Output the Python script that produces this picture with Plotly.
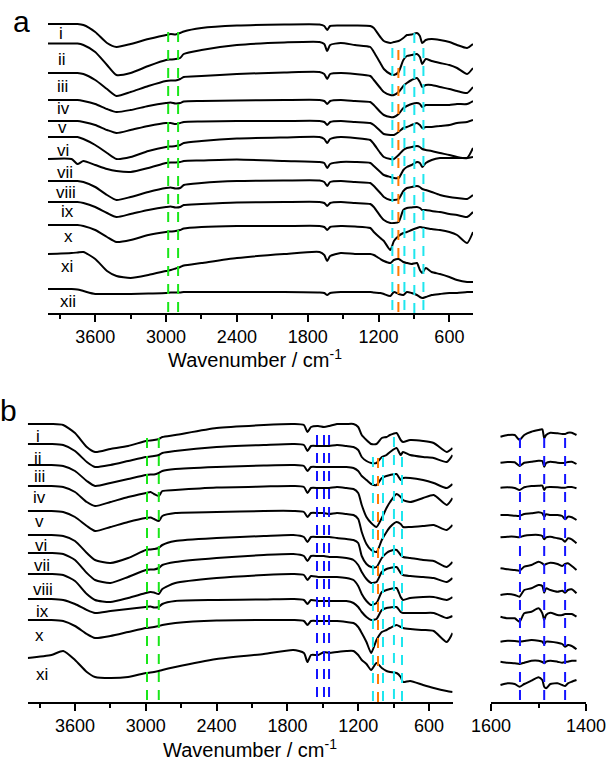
import plotly.graph_objects as go

W, H = 606, 763

# ---------------- panel a : wavenumber grid and stacked spectra (offset transmittance, a.u.) -------------
WN_A = [4000, 3800, 3750, 3700, 3600, 3500, 3420, 3300, 3150, 3000, 2960, 2920, 2880, 2850, 2700,
        2400, 2000, 1700, 1660, 1635, 1610, 1520, 1400, 1270, 1240, 1185, 1155, 1100, 1070, 1030,
        990, 960, 920, 875, 850, 830, 800, 750, 680, 600, 535, 450, 400]

A_I = [24, 24, 24, 25, 32, 43, 47, 44, 39, 35, 34, 34.5, 33, 31.5, 28, 25.5, 24.5, 24.5, 26, 30, 26, 25.5,
       25.5, 26, 28, 37, 41, 43, 42, 41, 38, 35, 34.5, 33, 36, 43, 40, 39, 40, 42, 45, 48, 44]
A_II = [43.5, 43.5, 43.5, 45, 52, 65, 75, 73, 66, 60, 59.5, 59, 58, 54, 50, 45, 42.5, 42, 44, 51, 45, 43,
        45, 47, 52, 63, 69, 74, 75, 72, 60, 56, 55, 54, 57, 64, 59, 61, 63, 65, 68, 74, 68]
A_III = [73, 73, 73, 74, 80, 89, 96, 92, 86, 81, 80.5, 80.5, 79, 77, 76, 74, 72.5, 72, 74, 79, 74, 73, 74,
         76, 80, 88, 92, 95, 95, 92, 86, 83, 80, 78, 82, 87, 85, 85, 87, 89, 91, 93, 87]
A_IV = [100, 100, 100, 101, 104, 109, 112, 110, 106, 103, 102.5, 103.5, 103, 101.5, 101, 100.5, 100, 100,
        101, 104, 101, 100, 101, 102, 105, 112, 115, 117, 117, 114, 108, 106, 104, 103, 104, 107, 105,
        105, 105, 105, 104, 104, 101]
A_V = [121, 121, 121, 122, 125, 130, 133, 130, 126, 123, 123, 124, 123, 122, 121.5, 121, 121, 121, 122,
       125, 122, 121, 122, 123, 125, 131, 134, 135, 135, 132, 128, 127, 125, 123, 125, 128, 127, 127,
       126, 125, 123, 122, 120]
A_VI = [137, 137, 137, 139, 145, 153, 159, 157, 151, 147, 146.5, 146, 145, 143, 141, 138.5, 137.5, 137,
        139, 143, 139, 137, 138, 140, 144, 153, 157, 159, 159, 155, 150, 148, 147, 146, 147, 149, 150,
        151, 153, 155, 157, 158, 148]
A_VII = [159, 159, 164, 161, 165, 169, 171, 172, 168, 163, 162.5, 162.5, 162, 161, 160.5, 159.5, 161, 162,
         163, 168, 164, 162, 162, 163, 166, 172, 175, 177, 178, 178, 170, 167, 165, 162, 163, 167, 163,
         160, 158, 158, 158, 158, 157]
A_VIII = [181, 181, 181, 182, 187, 195, 200, 197, 192, 188, 187.5, 188.5, 188, 185, 183, 181, 180.5, 180.5,
          182, 186, 182, 181, 182, 183, 186, 193, 197, 200, 200, 199, 191, 188, 187, 186, 187, 189, 190,
          192, 195, 197, 198, 199, 195]
A_IX = [202, 202, 202, 203, 207, 213, 217, 214, 210, 207, 206.5, 207.5, 207, 205, 204, 202.5, 202, 202,
        203, 206, 203, 202, 203, 204, 207, 216, 220, 223, 223, 222, 210, 208, 207.5, 207, 208, 210, 210,
        211, 212, 214, 215, 217, 212]
A_X = [225, 225, 225, 226, 230, 237, 242, 240, 235, 232, 231.5, 231, 230, 228.5, 227, 226, 226, 226, 227,
       230, 227, 226, 226.5, 228, 232, 238, 241, 250, 241, 236, 233, 232, 230, 228, 227, 227.5, 228, 229,
       230, 232, 235, 243, 232]
A_XI = [254, 253, 252.5, 252, 259, 271, 276, 278, 275, 271, 270, 268.5, 267, 265.5, 263, 258, 254, 252,
        255, 261, 256, 253, 254, 254, 255, 259, 261, 263, 260, 259, 262, 263, 264, 263, 270, 273, 268,
        272, 274, 277, 280, 282, 282]
A_XII = [289, 289, 289.5, 291, 294, 294, 294, 294, 293.5, 293, 292.5, 292.5, 292.5, 292, 292, 292, 292,
         292.5, 293, 295, 293, 292, 292, 292, 292.5, 293, 294, 296, 292, 294, 295, 292, 293, 295, 297,
         298, 297, 295, 294, 293, 293, 292, 292]

A_SERIES = [A_I, A_II, A_III, A_IV, A_V, A_VI, A_VII, A_VIII, A_IX, A_X, A_XI, A_XII]
A_NAMES = ["i", "ii", "iii", "iv", "v", "vi", "vii", "viii", "ix", "x", "xi", "xii"]

# ---------------- panel b -------------
WN_B = [4000, 3800, 3700, 3600, 3500, 3430, 3300, 3150, 3000, 2960, 2930, 2890, 2860, 2750, 2400, 2000,
        1750, 1660, 1630, 1600, 1540, 1490, 1445, 1380, 1300, 1240, 1200, 1170, 1130, 1090, 1045, 1000,
        960, 930, 875, 840, 820, 760, 650, 560, 450, 400]

B_I = [424, 424, 425, 433, 447, 452, 449, 446, 441, 440.5, 440, 439, 437, 435, 428, 425, 424, 425, 432,
       427, 426, 427, 426, 424, 424, 424, 427, 435, 440, 444, 444, 438, 437, 435, 433, 440, 442, 440,
       441, 443, 452, 448]
B_II = [444, 444, 445, 451, 462, 467, 465, 461, 457, 456.5, 456, 455, 453, 451, 447, 445, 444, 445, 451,
        446, 446, 446, 446, 445, 446, 447, 450, 457, 461, 463, 463, 457, 455, 452, 448, 455, 452, 455,
        457, 458, 462, 455]
B_III = [465, 465, 466, 471, 481, 486, 483, 479, 475, 474.5, 474.5, 473, 471, 469, 467, 465.5, 465, 466,
         471, 467, 467, 467, 467, 467, 467, 468, 471, 476, 480, 484, 485, 478, 476, 475, 474, 480, 478,
         478, 480, 483, 488, 484]
B_IV = [486, 486, 487, 492, 502, 506, 502, 497, 493, 492, 494, 496, 491, 490, 487.5, 486.5, 486, 487,
        493, 488, 488, 488, 488, 487, 488, 489, 493, 505, 517, 523, 527, 518, 508, 502, 494, 497, 500,
        502, 498, 495, 505, 498]
B_V = [511, 511, 512, 517, 526, 531, 527, 522, 518, 517.5, 519, 521, 516, 513, 512, 511, 511, 512, 517,
       513, 513, 513, 514, 513, 514, 515, 519, 532, 544, 550, 552, 540, 532, 527, 522, 524, 527, 527,
       526, 525, 530, 525]
B_VI = [535, 535, 536, 541, 553, 560, 563, 558, 550, 549.5, 549, 548, 545, 541, 538, 536, 535, 537, 542,
        537, 537, 537, 537, 538, 539, 540, 543, 556, 564, 567, 567, 558, 553, 551, 550, 555, 557, 558,
        560, 561, 567, 562]
B_VII = [553, 553, 554, 560, 573, 580, 583, 577, 570, 569.5, 569.5, 568, 565, 562, 558, 555, 554, 556,
         561, 556, 556, 556, 557, 557, 558, 560, 565, 572, 579, 583, 582, 572, 569, 568, 567, 573, 575,
         576, 577, 578, 582, 578]
B_VIII = [574, 574, 575, 581, 594, 600, 602, 598, 593, 592, 592.5, 594, 589, 583, 578, 575, 574, 575,
          580, 576, 577, 577, 577, 577, 578, 580, 586, 594, 601, 605, 603, 592, 590, 589, 588, 597, 600,
          598, 597, 597, 600, 597]
B_IX = [599, 599, 600, 604, 610, 613, 611, 609, 607, 606.5, 607.5, 607, 604, 601, 600, 599.5, 599, 600,
        604, 600, 601, 601, 601, 601, 601, 603, 607, 612, 617, 620, 619, 610, 608, 607.5, 607, 612, 613,
        613, 613, 613, 618, 616]
B_X = [620, 620, 621, 626, 634, 638, 636, 632, 628, 627.5, 627, 626, 625, 623, 620.5, 620, 620, 621, 625,
       621, 621, 621, 621, 621, 622, 623, 627, 633, 642, 653, 640, 632, 630, 628, 625, 627, 628, 629,
       630, 631, 642, 633]
B_XI = [658, 655, 651, 660, 672, 677, 678, 677, 673, 672.5, 672, 671, 670, 667, 659, 654, 650, 653, 662,
        655, 655, 652, 653, 652, 651, 651, 655, 660, 664, 670, 663, 668, 671, 672, 673, 677, 682, 681,
        685, 688, 691, 692]

B_SERIES = [B_I, B_II, B_III, B_IV, B_V, B_VI, B_VII, B_VIII, B_IX, B_X, B_XI]
B_NAMES = ["i", "ii", "iii", "iv", "v", "vi", "vii", "viii", "ix", "x", "xi"]

# ---------------- panel b inset (1600-1400 cm-1) -------------
WN_C = [1580, 1565, 1550, 1540, 1530, 1515, 1500, 1492, 1488, 1484, 1475, 1460, 1450, 1444, 1438, 1430, 1420]
C_1 = [436.7, 435, 435, 440, 435, 431.7, 430, 429.3, 438.3, 435, 432.7, 433.3, 434, 434, 432.7, 432.7, 435]
C_2 = [462.7, 462, 462.3, 466, 462.7, 461.7, 460.7, 461, 466.7, 463, 461.7, 462.7, 463, 462.7, 462, 461.7, 464]
C_3 = [487.7, 487.3, 488, 490, 487.3, 486, 485.7, 485.7, 490, 487.3, 487, 487.3, 487.7, 487.7, 487, 487, 488.3]
C_4 = [515, 515, 515.7, 516, 514, 513.3, 512.3, 513.3, 516.7, 514.3, 515, 515, 516, 519.3, 516.7, 517.3, 520]
C_5 = [537.3, 536.7, 536.7, 537.3, 535.7, 535, 535, 536, 539.3, 537.3, 536.7, 538.3, 539.3, 541.7, 538.3, 539.3, 543.3]
C_6 = [568.3, 569.3, 570, 570.7, 566.7, 565, 561.7, 563.3, 565, 564, 562.7, 564, 566, 564, 563.3, 566, 570]
C_7 = [595, 594, 595, 596.7, 590, 588.3, 585, 586, 592.7, 588.3, 590, 591.7, 590.7, 592.7, 590, 589.3, 593.3]
C_8 = [616.7, 618.3, 618.3, 621.7, 613.3, 611.7, 608.3, 613.3, 620, 615, 612.7, 615, 615, 614, 614, 614, 616.7]
C_9 = [641.7, 640.7, 641, 641.7, 641, 640, 640.7, 641.7, 644, 641.7, 641.7, 642.7, 644, 646.7, 645, 646, 649.3]
C_10 = [661.7, 662.7, 663.3, 664, 662.7, 660.7, 660.7, 662, 663.3, 661.7, 660.7, 661.7, 662.7, 662, 661.7, 660.7, 660.7]
C_11 = [685, 683.3, 684, 686.7, 684, 680.7, 677.3, 680, 686.7, 688.3, 684, 683.3, 685, 686, 683.3, 681.7, 680]
C_SERIES = [C_1, C_2, C_3, C_4, C_5, C_6, C_7, C_8, C_9, C_10, C_11]

# ---------------- marker band positions (cm-1) -------------
A_GREEN = [2982, 2898]
A_CYAN = [1083, 981, 897, 820]
A_ORANGE = [1032]
B_GREEN = [2990, 2890]
B_BLUE = [1549, 1490, 1447]
B_CYAN = [1075, 990, 897, 829]
B_ORANGE = [1032]
C_BLUE = [1539, 1488, 1444]

TICK_MAJOR = [3600, 3000, 2400, 1800, 1200, 600]
INSET_TICKS = [1600, 1400]

# ---------------- figure -------------
FONT = "Liberation Sans, Arial, sans-serif"
GREEN, CYAN, ORANGE, BLUE = "#19e619", "#1ee6ee", "#ff7a00", "#1414ff"

def px(x):
    return x / W

def py(y):
    return 1 - y / H

fig = go.Figure()
line_style = dict(color="black", width=2, shape="spline", smoothing=0.6)
for ys in A_SERIES:
    fig.add_trace(go.Scatter(x=WN_A, y=ys, mode="lines", line=line_style, xaxis="x", yaxis="y",
                             showlegend=False, hoverinfo="skip"))
for ys in B_SERIES:
    fig.add_trace(go.Scatter(x=WN_B, y=ys, mode="lines", line=line_style, xaxis="x2", yaxis="y2",
                             showlegend=False, hoverinfo="skip"))
for ys in C_SERIES:
    fig.add_trace(go.Scatter(x=WN_C, y=ys, mode="lines", line=line_style, xaxis="x3", yaxis="y3",
                             showlegend=False, hoverinfo="skip"))

dash = "10px,8px"

def vline(xref, yref, w, top, bottom, color):
    fig.add_shape(type="line", xref=xref, yref=yref, x0=w, x1=w, y0=top, y1=bottom,
                  line=dict(color=color, width=2, dash=dash))

for w in A_GREEN:
    vline("x", "y", w, 32, 313, GREEN)
for w in A_CYAN:
    vline("x", "y", w, 33 if w == 897 else 48, 313, CYAN)
for w in A_ORANGE:
    vline("x", "y", w, 50, 313, ORANGE)
for w in B_GREEN:
    vline("x2", "y2", w, 438, 702, GREEN)
for w in B_BLUE:
    vline("x2", "y2", w, 435, 702, BLUE)
for w in B_CYAN:
    vline("x2", "y2", w, 437 if w == 897 else 457, 702, CYAN)
for w in B_ORANGE:
    vline("x2", "y2", w, 458, 702, ORANGE)
for w in C_BLUE:
    vline("x3", "y3", w, 438, 702, BLUE)

axis_common = dict(showline=True, linecolor="black", linewidth=1.5, ticks="outside", ticklen=7,
                   tickwidth=1.5, tickcolor="black", showgrid=False, zeroline=False,
                   ticklabeloverflow="allow", automargin=False,
                   tickfont=dict(family=FONT, size=18, color="black"))
minor_main = dict(dtick=300, tick0=0, ticks="outside", ticklen=4, tickwidth=1.5, tickcolor="black")

fig.update_layout(
    width=W, height=H, autosize=False,
    margin=dict(l=0, r=0, t=0, b=0, pad=0, autoexpand=False),
    paper_bgcolor="white", plot_bgcolor="rgba(0,0,0,0)", showlegend=False,
    xaxis=dict(domain=[px(48), px(473)], range=[4000, 400], anchor="y", tickvals=TICK_MAJOR,
               minor=minor_main, **axis_common),
    yaxis=dict(domain=[py(313), py(15)], range=[313, 15], visible=False, anchor="x"),
    xaxis2=dict(domain=[px(27.8), px(452.6)], range=[4000, 400], anchor="y2", tickvals=TICK_MAJOR,
                minor=minor_main, **axis_common),
    yaxis2=dict(domain=[py(702), py(420)], range=[702, 420], visible=False, anchor="x2"),
    xaxis3=dict(domain=[px(491), px(586)], range=[1600, 1400], anchor="y3", tickvals=INSET_TICKS,
                minor=dict(dtick=100, tick0=0, ticks="outside", ticklen=4, tickwidth=1.5, tickcolor="black"),
                **axis_common),
    yaxis3=dict(domain=[py(702), py(420)], range=[702, 420], visible=False, anchor="x3"),
)

ann = []
A_LABEL_POS = [(61, 33), (62, 60), (62, 87), (63, 108), (62, 128), (63, 150), (65, 172), (66, 193),
               (67, 212), (68, 236), (67, 267), (68, 301)]
B_LABEL_POS = [(38, 436), (38, 458), (39, 477), (39, 497), (39, 521), (41, 545), (42, 565), (43, 589),
               (42, 611), (39, 635), (42, 674)]
for name, (x, y) in zip(A_NAMES, A_LABEL_POS):
    ann.append(dict(text=name, x=px(x), y=py(y), xref="paper", yref="paper", showarrow=False,
                    xanchor="center", yanchor="middle", font=dict(family=FONT, size=17, color="black")))
for name, (x, y) in zip(B_NAMES, B_LABEL_POS):
    ann.append(dict(text=name, x=px(x), y=py(y), xref="paper", yref="paper", showarrow=False,
                    xanchor="center", yanchor="middle", font=dict(family=FONT, size=17, color="black")))

title = "Wavenumber / cm<sup>-1</sup>"
ann.append(dict(text=title, x=px(255), y=py(358), xref="paper", yref="paper", showarrow=False,
                xanchor="center", yanchor="middle", font=dict(family=FONT, size=20, color="black")))
ann.append(dict(text=title, x=px(250), y=py(748), xref="paper", yref="paper", showarrow=False,
                xanchor="center", yanchor="middle", font=dict(family=FONT, size=20, color="black")))
ann.append(dict(text="a", x=px(21), y=py(22), xref="paper", yref="paper", showarrow=False,
                xanchor="center", yanchor="middle", font=dict(family=FONT, size=30, color="black")))
ann.append(dict(text="b", x=px(8), y=py(410), xref="paper", yref="paper", showarrow=False,
                xanchor="center", yanchor="middle", font=dict(family=FONT, size=30, color="black")))
fig.update_layout(annotations=ann)

fig.write_html("out.html")
